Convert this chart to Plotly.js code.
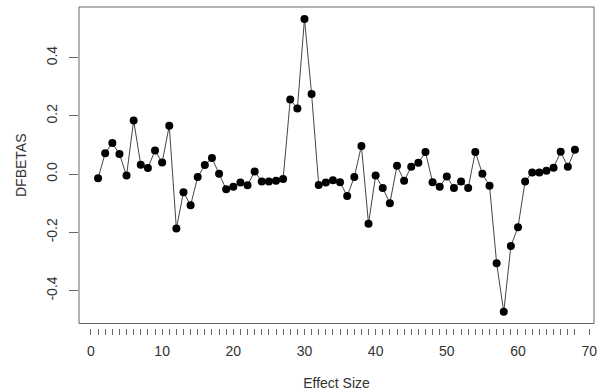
<!DOCTYPE html>
<html>
<head>
<meta charset="utf-8">
<script src="https://cdn.plot.ly/plotly-3.0.1.min.js"></script>
<style>html,body{margin:0;padding:0;background:#fff;}#chart{width:601px;height:392px;}</style>
</head>
<body>
<div id="chart"></div>
<script>
// Study index (effect size number)
var effectSize = [];
for (var k = 1; k <= 68; k++) effectSize.push(k);

// DFBETAS values
var dfbetas = [
  -0.014, 0.072, 0.107, 0.069, -0.005, 0.184, 0.032, 0.021, 0.081, 0.040,
   0.166, -0.187, -0.062, -0.107, -0.010, 0.031, 0.055, 0.001, -0.052, -0.043,
  -0.029, -0.038, 0.009, -0.025, -0.025, -0.023, -0.017, 0.256, 0.225, 0.533,
   0.275, -0.037, -0.029, -0.021, -0.028, -0.075, -0.010, 0.097, -0.170, -0.005,
  -0.048, -0.100, 0.029, -0.023, 0.025, 0.039, 0.076, -0.028, -0.043, -0.008,
  -0.048, -0.025, -0.048, 0.076, 0.001, -0.040, -0.306, -0.473, -0.247, -0.182,
  -0.025, 0.006, 0.006, 0.012, 0.022, 0.077, 0.025, 0.084
];

// Axis ticks
var xMajorTicks = [0, 10, 20, 30, 40, 50, 60, 70];
var yTickVals = [-0.4, -0.2, 0.0, 0.2, 0.4];
var yTickText = ['-0.4', '-0.2', '0.0', '0.2', '0.4'];

var xTickVals = effectSize.slice();
xTickVals.unshift(0);
xTickVals.push(70);
var xTickText = xTickVals.map(function (v) {
  return xMajorTicks.indexOf(v) >= 0 ? String(v) : '';
});

var FONT = 'Liberation Sans, Arial, sans-serif';
var AXC = '#666666';
var delta = 0.014;

var trace = {
  x: effectSize,
  y: dfbetas,
  type: 'scatter',
  mode: 'lines+markers',
  line: {color: '#444444', width: 1},
  marker: {color: '#000000', size: 8},
  hoverinfo: 'x+y'
};

var layout = {
  width: 601,
  height: 392,
  margin: {l: 79, r: 7, t: 7, b: 64, pad: 0},
  paper_bgcolor: '#ffffff',
  plot_bgcolor: '#ffffff',
  showlegend: false,
  font: {family: FONT, size: 14, color: '#333333'},
  xaxis: {
    range: [-1.68, 70.68],
    domain: [0, 1],
    anchor: 'free',
    position: 0,
    showgrid: false,
    zeroline: false,
    showline: false,
    ticks: 'outside',
    ticklen: 6,
    tickwidth: 1,
    tickcolor: AXC,
    tickmode: 'array',
    tickvals: xTickVals,
    ticktext: xTickText,
    ticklabelstandoff: 4,
    tickfont: {family: FONT, size: 14, color: '#333333'},
    title: {text: 'Effect Size', font: {family: FONT, size: 14, color: '#333333'}, standoff: 20},
    automargin: false
  },
  yaxis: {
    range: [-0.513, 0.574],
    domain: [delta, 1],
    showgrid: false,
    zeroline: false,
    showline: false,
    ticks: 'outside',
    ticklen: 9,
    tickwidth: 1,
    tickcolor: AXC,
    tickmode: 'array',
    tickvals: yTickVals,
    ticktext: yTickText,
    tickangle: -90,
    ticklabelstandoff: 6,
    tickfont: {family: FONT, size: 14, color: '#333333'},
    title: {text: 'DFBETAS', font: {family: FONT, size: 14, color: '#333333'}, standoff: 14},
    automargin: false
  },
  shapes: [{
    type: 'rect', xref: 'paper', yref: 'paper',
    x0: 0, x1: 1, y0: delta, y1: 1,
    line: {color: AXC, width: 1}, fillcolor: 'rgba(0,0,0,0)', layer: 'above'
  }]
};

Plotly.newPlot('chart', [trace], layout, {staticPlot: true, displayModeBar: false});
</script>
</body>
</html>
